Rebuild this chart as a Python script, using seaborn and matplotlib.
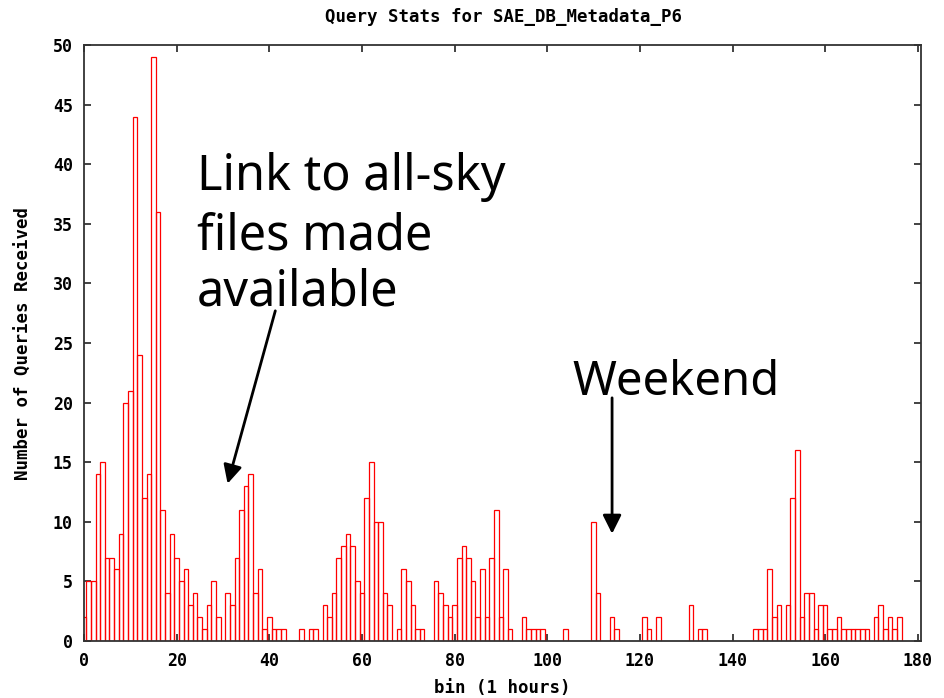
# Query stats histogram (hourly bins) with annotations
import pandas as pd
import seaborn as sns
import matplotlib.pyplot as plt

# Hourly bins and number of queries received in each
bins = list(range(177))
queries = [
    2, 5, 5, 14, 15, 7, 7, 6, 9, 20,        # 0-9
    21, 44, 24, 12, 14, 49, 36, 11, 4, 9,   # 10-19
    7, 5, 6, 3, 4, 2, 1, 3, 5, 2,           # 20-29
    0, 4, 3, 7, 11, 13, 14, 4, 6, 1,        # 30-39
    2, 1, 1, 1, 0, 0, 0, 1, 0, 1,           # 40-49
    1, 0, 3, 2, 4, 7, 8, 9, 8, 5,           # 50-59
    4, 12, 15, 10, 10, 4, 3, 0, 1, 6,       # 60-69
    5, 3, 1, 1, 0, 0, 5, 4, 3, 2,           # 70-79
    3, 7, 8, 7, 5, 2, 6, 2, 7, 11,          # 80-89
    2, 6, 1, 0, 0, 2, 1, 1, 1, 1,           # 90-99
    0, 0, 0, 0, 1, 0, 0, 0, 0, 0,           # 100-109
    10, 4, 0, 0, 2, 1, 0, 0, 0, 0,          # 110-119
    0, 2, 1, 0, 2, 0, 0, 0, 0, 0,           # 120-129
    0, 3, 0, 1, 1, 0, 0, 0, 0, 0,           # 130-139
    0, 0, 0, 0, 0, 1, 1, 1, 6, 2,           # 140-149
    3, 0, 3, 12, 16, 2, 4, 4, 1, 3,         # 150-159
    3, 1, 1, 2, 1, 1, 1, 1, 1, 1,           # 160-169
    0, 2, 3, 1, 2, 1, 2,                    # 170-176
]

title = 'Query Stats for SAE_DB_Metadata_P6'
xlabel = 'bin (1 hours)'
ylabel = 'Number of Queries Received'
note_link = ['Link to all-sky', 'files made', 'available']
note_weekend = 'Weekend'

sns.set_style('ticks')
plt.rcParams['font.family'] = ['DejaVu Sans Mono']
plt.rcParams['text.color'] = 'black'

df = pd.DataFrame({'bin': bins, 'queries': queries})
df = df[df['queries'] > 0]

W, H = 945, 698
fig = plt.figure(figsize=(W / 100, H / 100), dpi=100)
ax = fig.add_axes([84 / W, 1 - 641 / H, (921.5 - 84) / W, (641 - 45) / H])

sns.barplot(data=df, x='bin', y='queries', native_scale=True, width=1,
            fill=False, color='red', errorbar=None, linewidth=0.9, ax=ax)

ax.set_xlim(0, 180.8)
ax.set_ylim(0, 50)
ax.set_xticks(range(0, 181, 20))
ax.set_yticks(range(0, 51, 5))
ax.tick_params(direction='in', top=True, right=True, length=5, width=1.2,
               labelsize=12, pad=8, color='#222222', labelcolor='black')
for lab in ax.get_xticklabels() + ax.get_yticklabels():
    lab.set_fontweight('bold')
for sp in ax.spines.values():
    sp.set_visible(True)
    sp.set_color('#333333')
    sp.set_linewidth(1.3)

ax.set_xlabel('')
ax.set_ylabel('')
fig.text(502 / W, 1 - 688 / H, xlabel, ha='center', va='center',
         fontsize=12.5, fontweight='bold')
fig.text(24 / W, 1 - 343 / H, ylabel, ha='center', va='center',
         rotation=90, fontsize=12.5, fontweight='bold')
fig.text(504 / W, 1 - 17 / H, title, ha='center', va='center',
         fontsize=12.5, fontweight='bold')

# Hand-written style annotations
for line, base in zip(note_link, [190, 250, 305]):
    fig.text(197 / W, 1 - base / H, line, ha='left', va='baseline',
             fontsize=35, family='Noto Sans', color='black')
fig.text(572 / W, 1 - 395 / H, note_weekend, ha='left', va='baseline',
         fontsize=34, family='Noto Sans', color='black')

arrow = dict(arrowstyle='-|>', color='black', lw=2, mutation_scale=28,
             shrinkA=0, shrinkB=0)
ax.annotate('', xy=(31.0, 13.2), xytext=(41.3, 27.7), arrowprops=arrow)
ax.annotate('', xy=(114.0, 9.0), xytext=(114.0, 20.4), arrowprops=arrow)

fig.savefig('out.png', dpi=100, facecolor='white')
